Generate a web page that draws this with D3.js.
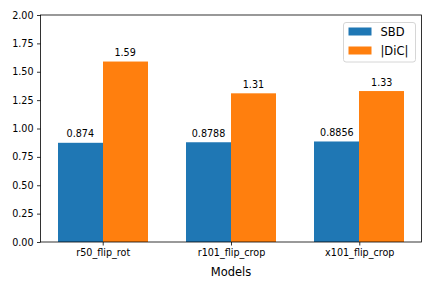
<!DOCTYPE html>
<html>
<head>
<meta charset="utf-8">
<script src="https://cdn.jsdelivr.net/npm/d3@7"></script>
<style>
  html, body { margin: 0; padding: 0; background: #fff; }
  svg { display: block; font-family: "DejaVu Sans", sans-serif; }
</style>
</head>
<body>
<div id="app"></div>
<script>
const models = ["r50_flip_rot", "r101_flip_crop", "x101_flip_crop"]
const sbd = [0.874, 0.8788, 0.8856]
const dic = [1.59, 1.31, 1.33]
const seriesNames = ["SBD", "|DiC|"]
const seriesColors = ["#1f77b4", "#ff7f0e"]
const yTicks = [0, 0.25, 0.5, 0.75, 1.0, 1.25, 1.5, 1.75, 2.0]

const width = 432, height = 288
const margin = {top: 15, right: 10.5, bottom: 46, left: 40.5}
const barW = 0.35

const svg = d3.select('#app').append('svg')
    .attr('width', width)
    .attr('height', height)

const x = d3.scaleLinear()
    .domain([-0.485, models.length - 1 + 0.485])
    .range([margin.left, width - margin.right])

const y = d3.scaleLinear()
    .domain([0, 2])
    .range([height - margin.bottom, margin.top])

const series = [sbd, dic]

// pixel-snapped edges so the two bars of a group touch without a seam
const edge = v => Math.round(x(v))

// bars
series.forEach((vals, s) => {
    const off = s === 0 ? -barW / 2 : barW / 2
    svg.append('g').selectAll('rect')
        .data(vals)
        .join('rect')
        .attr('x', (d, i) => edge(i + off - barW / 2))
        .attr('width', (d, i) => edge(i + off + barW / 2) - edge(i + off - barW / 2))
        .attr('y', d => y(d))
        .attr('height', d => y(0) - y(d))
        .attr('fill', seriesColors[s])

    // value labels
    svg.append('g').selectAll('text')
        .data(vals)
        .join('text')
        .attr('x', (d, i) => x(i + off))
        .attr('y', d => y(d) - 5.5)
        .attr('text-anchor', 'middle')
        .attr('font-size', 9.6)
        .attr('fill', '#000')
        .text(d => String(d))
})

// axes
const xAxis = d3.axisBottom(x)
    .tickValues(d3.range(models.length))
    .tickFormat(i => models[i])
    .tickSize(3.5)
    .tickPadding(3.5)

const yAxis = d3.axisLeft(y)
    .tickValues(yTicks)
    .tickFormat(d3.format('.2f'))
    .tickSize(3.5)
    .tickPadding(3.5)

const gx = svg.append('g')
    .attr('transform', `translate(0,${y(0)})`)
    .call(xAxis)
const gy = svg.append('g')
    .attr('transform', `translate(${margin.left},0)`)
    .call(yAxis)

for (const g of [gx, gy]) {
    g.select('.domain').remove()
    g.selectAll('.tick line').attr('stroke', '#000').attr('stroke-width', 0.8)
    g.selectAll('.tick text')
        .attr('fill', '#000')
        .attr('font-size', 9.6)
        .attr('font-family', '"DejaVu Sans", sans-serif')
}

// spines
svg.append('rect')
    .attr('x', margin.left)
    .attr('y', margin.top)
    .attr('width', width - margin.left - margin.right)
    .attr('height', height - margin.top - margin.bottom)
    .attr('fill', 'none')
    .attr('stroke', '#000')
    .attr('stroke-width', 0.8)

// x label
svg.append('text')
    .attr('x', (margin.left + width - margin.right) / 2)
    .attr('y', 276)
    .attr('text-anchor', 'middle')
    .attr('font-size', 11.5)
    .attr('fill', '#000')
    .text('Models')

// legend
const lg = svg.append('g').attr('transform', 'translate(343.5,22.5)')
lg.append('rect')
    .attr('width', 72)
    .attr('height', 39.5)
    .attr('rx', 2.5)
    .attr('fill', '#fff')
    .attr('fill-opacity', 0.8)
    .attr('stroke', '#ccc')
    .attr('stroke-width', 0.8)

const items = lg.selectAll('g.item')
    .data(seriesNames)
    .join('g')
    .attr('class', 'item')
    .attr('transform', (d, i) => `translate(5,${5 + i * 19})`)

items.append('rect')
    .attr('width', 23)
    .attr('height', 8)
    .attr('fill', (d, i) => seriesColors[i])
items.append('text')
    .attr('x', 32)
    .attr('y', 8.3)
    .attr('font-size', 11.5)
    .attr('fill', '#000')
    .text(d => d)
</script>
</body>
</html>
